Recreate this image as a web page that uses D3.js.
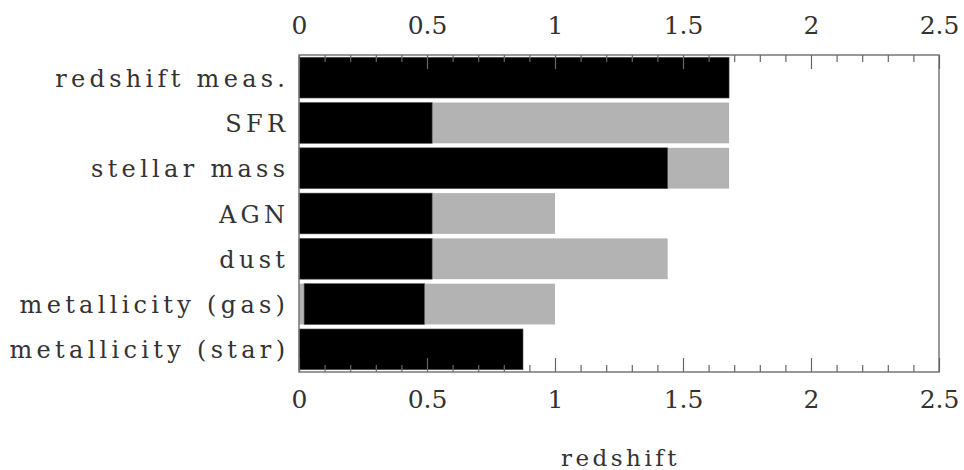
<!DOCTYPE html>
<html>
<head>
<meta charset="utf-8">
<script src="https://cdn.jsdelivr.net/npm/d3@7"></script>
<style>
  html, body { margin: 0; padding: 0; background: #fff; }
  svg { display: block; }
  text { font-family: "DejaVu Serif", "Liberation Serif", serif; fill: #333; }
</style>
</head>
<body>
<svg id="chart" width="964" height="470"></svg>
<script>
// Quantities and the redshift range over which each can be measured
const categories = ["redshift meas.", "SFR", "stellar mass", "AGN", "dust", "metallicity (gas)", "metallicity (star)"];
// black segment: well-established range
const blackStart = [0, 0, 0, 0, 0, 0.02, 0];
const blackEnd   = [1.68, 0.52, 1.44, 0.52, 0.52, 0.49, 0.875];
// grey segment: extended range (drawn underneath, from 0)
const greyEnd    = [0, 1.68, 1.68, 1.0, 1.44, 1.0, 0];
const majorTicks = [0, 0.5, 1, 1.5, 2, 2.5];
const minorTicks = [0.1, 0.2, 0.3, 0.4, 0.6, 0.7, 0.8, 0.9, 1.1, 1.2, 1.3, 1.4,
                    1.6, 1.7, 1.8, 1.9, 2.1, 2.2, 2.3, 2.4];
const xTitle = "redshift";

const rows = categories.map((c, i) => ({
  name: c, b0: blackStart[i], b1: blackEnd[i], g1: greyEnd[i]
}));

const margin = { left: 299, right: 25, top: 55, bottom: 98 };
const W = 964, H = 470;
const svg = d3.select("#chart");

const x = d3.scaleLinear().domain([0, 2.5]).range([margin.left, W - margin.right]);
const y = d3.scaleBand().domain(categories)
  .range([margin.top, H - margin.bottom])
  .paddingInner(0.1).paddingOuter(0.05);

// grey extended-range bars
svg.append("g").selectAll("rect").data(rows.filter(d => d.g1 > 0)).join("rect")
  .attr("x", x(0))
  .attr("y", d => y(d.name))
  .attr("width", d => x(d.g1) - x(0))
  .attr("height", y.bandwidth())
  .attr("fill", "#b3b3b3");

// black core-range bars
svg.append("g").selectAll("rect").data(rows).join("rect")
  .attr("x", d => x(d.b0))
  .attr("y", d => y(d.name))
  .attr("width", d => x(d.b1) - x(d.b0))
  .attr("height", y.bandwidth())
  .attr("fill", "#000")
  .attr("stroke", "#555")
  .attr("stroke-width", 0.6);

// frame
const y0 = margin.top, y1 = H - margin.bottom;
svg.append("rect")
  .attr("x", x(0)).attr("y", y0)
  .attr("width", x(2.5) - x(0)).attr("height", y1 - y0)
  .attr("fill", "none").attr("stroke", "#777").attr("stroke-width", 1.5);

const fmt = d => String(d);

function styleAxis(g) {
  g.select(".domain").remove();
  g.selectAll(".tick line").attr("stroke", "#666").attr("stroke-width", 1.2);
  g.selectAll("text")
    .style("font-family", '"DejaVu Serif", serif')
    .style("font-size", "25px")
    .attr("fill", "#333");
}

// top axis: major + minor ticks pointing into the plot
svg.append("g").attr("transform", `translate(0,${y0})`)
  .call(d3.axisTop(x).tickValues(majorTicks).tickFormat(fmt).tickSize(-14).tickPadding(21))
  .call(styleAxis);
svg.append("g").attr("transform", `translate(0,${y0})`)
  .call(d3.axisTop(x).tickValues(minorTicks).tickFormat("").tickSize(-7))
  .call(styleAxis);

// bottom axis
svg.append("g").attr("transform", `translate(0,${y1})`)
  .call(d3.axisBottom(x).tickValues(majorTicks).tickFormat(fmt).tickSize(-14).tickPadding(18))
  .call(styleAxis);
svg.append("g").attr("transform", `translate(0,${y1})`)
  .call(d3.axisBottom(x).tickValues(minorTicks).tickFormat("").tickSize(-7))
  .call(styleAxis);

// category labels
const ls = 4.3;
svg.append("g").selectAll("text").data(categories).join("text")
  .attr("x", x(0) - 14 + ls)
  .attr("y", d => y(d) + y.bandwidth() / 2)
  .attr("dy", "0.38em")
  .attr("text-anchor", "end")
  .style("font-size", "24px")
  .style("letter-spacing", ls + "px")
  .text(d => d);

// x-axis title
svg.append("text")
  .attr("x", (x(0) + x(2.5)) / 2 + 1.5)
  .attr("y", 466)
  .attr("text-anchor", "middle")
  .style("font-size", "23px")
  .style("letter-spacing", "3.5px")
  .text(xTitle);
</script>
</body>
</html>
